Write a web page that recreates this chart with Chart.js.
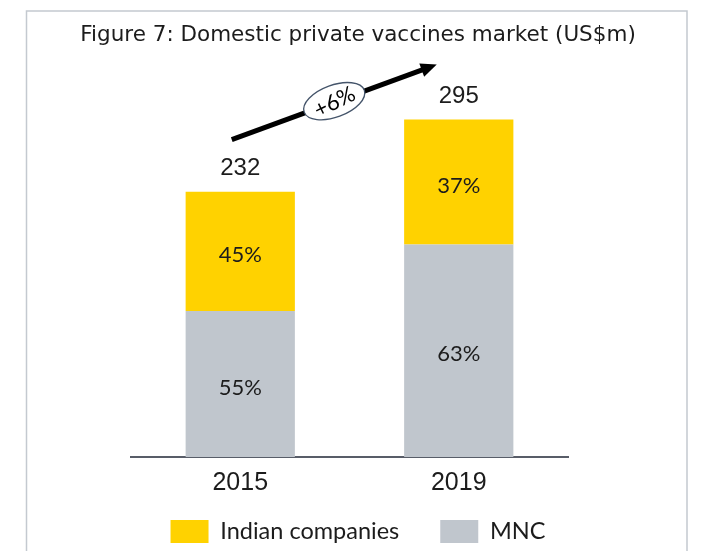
<!DOCTYPE html>
<html lang="en">
<head>
    <meta charset="UTF-8">
    <title>Domestic private vaccines market</title>
    <script src="https://cdn.jsdelivr.net/npm/chart.js@4.4.1/dist/chart.umd.min.js"></script>
    <style>
        * {
            margin: 0;
            padding: 0;
            box-sizing: border-box;
        }

        body {
            background: #ffffff;
        }

        .wrapper {
            position: relative;
            width: 702px;
            height: 551px;
        }
    </style>
</head>
<body>
    <div class="wrapper">
        <canvas id="chart"></canvas>
    </div>
    <script>
        // chart values
        const years = ["2015", "2019"];
        const totals = [232, 295];
        const mncShare = [55, 63];
        const indianShare = [45, 37];
        const seriesNames = ["Indian companies", "MNC"];
        const growthLabel = "+6%";

        const YELLOW = "#ffd200";
        const GREY = "#c0c6cd";
        const TEXT = "#1c1c1c";

        const mncValues = totals.map((t, i) => t * mncShare[i] / 100);
        const indianValues = totals.map((t, i) => t * indianShare[i] / 100);

        // white background + thin frame round the figure
        const framePlugin = {
            id: "frame",
            beforeDraw(chart) {
                const ctx = chart.ctx;
                ctx.save();
                ctx.fillStyle = "#ffffff";
                ctx.fillRect(0, 0, chart.width, chart.height);
                ctx.strokeStyle = "#c4c9d0";
                ctx.lineWidth = 1.5;
                ctx.beginPath();
                ctx.moveTo(26.5, chart.height);
                ctx.lineTo(26.5, 11);
                ctx.lineTo(687, 11);
                ctx.lineTo(687, chart.height);
                ctx.stroke();
                ctx.restore();
            }
        };

        // percentages inside the bars and totals on top
        const labelPlugin = {
            id: "barLabels",
            afterDatasetsDraw(chart) {
                const ctx = chart.ctx;
                const y = chart.scales.y;
                ctx.save();
                ctx.fillStyle = TEXT;
                ctx.textAlign = "center";
                ctx.textBaseline = "middle";
                const shares = [mncShare, indianShare];
                chart.data.datasets.forEach((ds, di) => {
                    chart.getDatasetMeta(di).data.forEach((bar, i) => {
                        const mid = (bar.y + bar.base) / 2;
                        ctx.font = "22px Lato";
                        ctx.fillText(shares[di][i] + "%", bar.x, mid + 3.5);
                    });
                });
                const meta = chart.getDatasetMeta(0);
                ctx.font = "24px 'Liberation Sans'";
                totals.forEach((t, i) => {
                    ctx.fillText(String(t), meta.data[i].x, y.getPixelForValue(t) - 23.5);
                });
                ctx.restore();
            }
        };

        // growth arrow with the "+6%" bubble
        const arrowPlugin = {
            id: "growthArrow",
            afterDraw(chart) {
                const ctx = chart.ctx;
                const y = chart.scales.y;
                const meta = chart.getDatasetMeta(0);
                const sx = meta.data[0].x - 8.5, sy = y.getPixelForValue(totals[0]) - 52;
                const ex = meta.data[1].x - 22, ey = y.getPixelForValue(totals[1]) - 55;
                const ang = Math.atan2(ey - sy, ex - sx);
                const headLen = 16, headHalf = 7;

                ctx.save();
                ctx.strokeStyle = "#000000";
                ctx.fillStyle = "#000000";
                ctx.lineWidth = 5;
                ctx.beginPath();
                ctx.moveTo(sx, sy);
                ctx.lineTo(ex - Math.cos(ang) * (headLen - 2), ey - Math.sin(ang) * (headLen - 2));
                ctx.stroke();

                ctx.translate(ex, ey);
                ctx.rotate(ang);
                ctx.beginPath();
                ctx.moveTo(0, 0);
                ctx.lineTo(-headLen, -headHalf);
                ctx.lineTo(-headLen, headHalf);
                ctx.closePath();
                ctx.fill();
                ctx.restore();

                const cx = sx + (ex - sx) * 0.5, cy = sy + (ey - sy) * 0.5 - 1;
                ctx.save();
                ctx.translate(cx, cy);
                ctx.rotate(ang);
                ctx.beginPath();
                ctx.ellipse(0, 0, 32, 16, 0, 0, Math.PI * 2);
                ctx.fillStyle = "#ffffff";
                ctx.fill();
                ctx.strokeStyle = "#44546a";
                ctx.lineWidth = 1.3;
                ctx.stroke();
                ctx.rotate(-6 * Math.PI / 180);
                ctx.fillStyle = "#000000";
                ctx.font = "22px Lato";
                ctx.textAlign = "center";
                ctx.textBaseline = "middle";
                ctx.fillText(growthLabel, 0, 1);
                ctx.restore();
            }
        };

        new Chart(document.getElementById("chart"), {
            type: "bar",
            plugins: [framePlugin, labelPlugin, arrowPlugin],
            data: {
                labels: years,
                datasets: [
                    {
                        label: seriesNames[1],
                        data: mncValues,
                        backgroundColor: GREY,
                        borderWidth: 0,
                        categoryPercentage: 1,
                        barPercentage: 0.5,
                    },
                    {
                        label: seriesNames[0],
                        data: indianValues,
                        backgroundColor: YELLOW,
                        borderWidth: 0,
                        categoryPercentage: 1,
                        barPercentage: 0.5,
                    },
                ],
            },
            options: {
                responsive: true,
                maintainAspectRatio: false,
                animation: false,
                layout: {
                    padding: { left: 14, right: 0, top: 0, bottom: -2.25 },
                },
                scales: {
                    x: {
                        stacked: true,
                        grid: { display: false, drawTicks: false },
                        border: { display: true, color: "#585d68", width: 2 },
                        ticks: {
                            color: TEXT,
                            mirror: true,
                            padding: -41,
                            font: { family: "'Liberation Sans'", size: 25 },
                        },
                        afterFit: (s) => { s.height = 21.75; },
                    },
                    y: {
                        stacked: true,
                        min: 0,
                        max: 300,
                        grid: { display: false },
                        border: { display: false },
                        ticks: { display: false },
                        afterFit: (s) => { s.width = 117; },
                    },
                    yRight: {
                        position: "right",
                        grid: { display: false },
                        border: { display: false },
                        ticks: { display: false },
                        afterFit: (s) => { s.width = 134; },
                    },
                },
                plugins: {
                    tooltip: { enabled: false },
                    title: {
                        display: true,
                        text: "Figure 7: Domestic private vaccines market (US$m)",
                        color: TEXT,
                        font: { family: "'DejaVu Sans'", size: 21.5, weight: "normal" },
                        padding: { top: 22.8, bottom: 65.3 },
                    },
                    legend: {
                        position: "bottom",
                        reverse: true,
                        labels: {
                            color: TEXT,
                            boxWidth: 38,
                            boxHeight: 23,
                            padding: 41,
                            font: { family: "Lato", size: 23.5 },
                        },
                    },
                },
            },
        });
    </script>
</body>
</html>
